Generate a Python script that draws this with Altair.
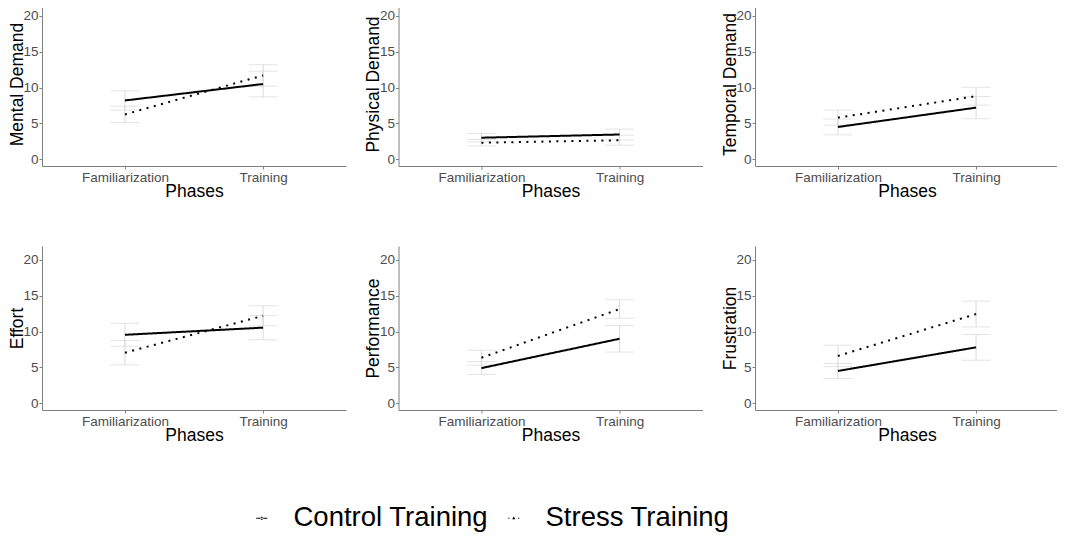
import altair as alt
import pandas as pd

measures = ["Mental Demand", "Physical Demand", "Temporal Demand",
            "Effort", "Performance", "Frustration"]
phases = ["Familiarization", "Training"]
groups = ["Control Training", "Stress Training"]

control_fam = [8.2, 3.0, 4.5, 9.55, 4.9, 4.5]
control_train = [10.5, 3.45, 7.2, 10.55, 9.0, 7.8]
stress_fam = [6.25, 2.3, 5.8, 7.05, 6.35, 6.6]
stress_train = [11.7, 2.65, 8.8, 12.2, 13.15, 12.45]

control_fam_err = [1.35, 0.6, 1.1, 1.6, 0.9, 1.05]
control_train_err = [1.8, 0.75, 1.55, 1.7, 1.85, 1.8]
stress_fam_err = [1.15, 0.45, 1.05, 1.7, 1.05, 1.5]
stress_train_err = [1.5, 0.7, 1.25, 1.4, 1.3, 1.8]

rows = []
for i, m in enumerate(measures):
    for g, vals in [
        ("Control Training", [(control_fam[i], control_fam_err[i]), (control_train[i], control_train_err[i])]),
        ("Stress Training", [(stress_fam[i], stress_fam_err[i]), (stress_train[i], stress_train_err[i])]),
    ]:
        for p, (mean, err) in zip(phases, vals):
            rows.append({"measure": m, "group": g, "phase": p,
                         "mean": mean, "lo": mean - err, "hi": mean + err})
df = pd.DataFrame(rows)

FONT = "Liberation Sans"
ERR = "#d9d9d9"

# legend glyphs: short line with a dot / dotted line with a triangle
SYM_CONTROL = ("M-0.55,-0.05H0.55V0.05H-0.55Z "
               "M-0.15,0A0.15,0.15 0 1,0 0.15,0A0.15,0.15 0 1,0 -0.15,0Z")
SYM_STRESS = ("M-0.55,-0.05H-0.43V0.05H-0.55Z "
              "M0.43,-0.05H0.55V0.05H0.43Z "
              "M0,-0.17L0.16,0.1L-0.16,0.1Z")


def make_legend():
    return alt.Legend(
        title=None, orient="none", direction="horizontal",
        legendX=206, legendY=502,
        labelFont=FONT, labelFontSize=27.5, labelColor="black",
        labelLimit=400,
        symbolSize=400, symbolOpacity=1,
        symbolFillColor="black", symbolStrokeColor="black",
        symbolStrokeWidth=0,
        labelOffset=18, columnPadding=11, padding=0,
    )


def panel(m):
    base = alt.Chart(df).transform_filter(
        alt.FieldEqualPredicate(field="measure", equal=m))
    x = alt.X("phase:N",
              scale=alt.Scale(type="point", domain=phases, padding=0.6),
              axis=alt.Axis(title="Phases", labelAngle=0))
    yscale = alt.Scale(domain=[-0.95, 21.95], nice=False, zero=False)
    yaxis = alt.Axis(title=m, values=[0, 5, 10, 15, 20])
    rule = base.mark_rule(color=ERR, strokeWidth=1).encode(
        x=x, y=alt.Y("lo:Q", scale=yscale, axis=yaxis), y2="hi:Q")
    cap_lo = base.mark_tick(color=ERR, size=29, thickness=1).encode(
        x=x, y=alt.Y("lo:Q", scale=yscale, axis=yaxis))
    cap_hi = base.mark_tick(color=ERR, size=29, thickness=1).encode(
        x=x, y=alt.Y("hi:Q", scale=yscale, axis=yaxis))
    line = base.mark_line(color="black", strokeWidth=2).encode(
        x=x,
        y=alt.Y("mean:Q", scale=yscale, axis=yaxis),
        strokeDash=alt.StrokeDash(
            "group:N",
            scale=alt.Scale(domain=groups, range=[[1, 0], [2, 5.5]]),
            legend=make_legend(),
        ),
    )
    # legend-only layer: no rows drawn, the legend comes from the shape scale
    pts = base.transform_filter(alt.datum.mean < -100).mark_point(
        filled=True, color="black", size=400).encode(
        x=x,
        y=alt.Y("mean:Q", scale=yscale, axis=yaxis),
        shape=alt.Shape(
            "group:N",
            scale=alt.Scale(domain=groups, range=[SYM_CONTROL, SYM_STRESS]),
            legend=make_legend(),
        ),
    )
    return alt.layer(rule, cap_lo, cap_hi, line, pts).properties(
        width=304, height=164)


chart = alt.concat(
    *[panel(m) for m in measures],
    columns=3,
    spacing={"row": 80, "column": 52.5},
    bounds="flush",
).properties(
    padding={"left": 0, "top": -6, "right": -2, "bottom": 2},
).configure_view(
    stroke=None
).configure_axis(
    grid=False,
    domainColor="#808080",
    domainWidth=1,
    tickColor="#808080",
    tickSize=3,
    labelFont=FONT,
    labelFontSize=13.5,
    labelColor="#4d4d4d",
    labelPadding=1,
    titleFont=FONT,
    titleFontSize=17.5,
    titleFontWeight="normal",
    titleColor="black",
).configure_axisY(
    titlePadding=-3.5,
).configure_axisX(
    titlePadding=-1,
)

chart.save("out.html", embed_options={"renderer": "svg", "actions": False})
